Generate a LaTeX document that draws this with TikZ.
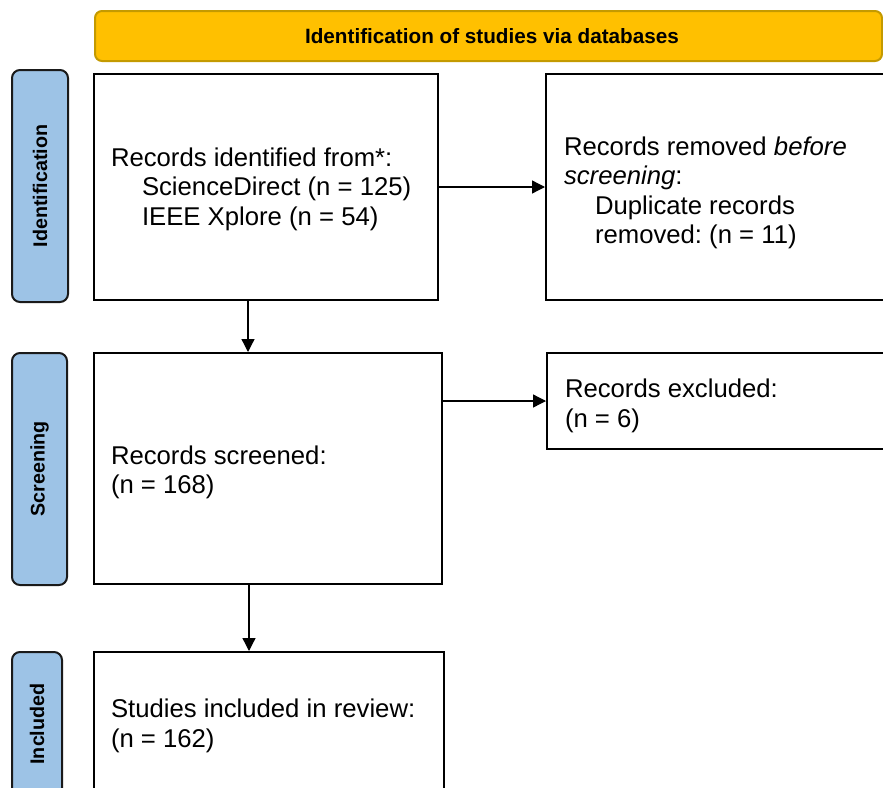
\documentclass[tikz,border=0pt]{standalone}
\usepackage{fontspec}
\setmainfont{Liberation Sans}
\usetikzlibrary{arrows.meta}
\frenchspacing
\definecolor{hdrfill}{HTML}{FFC000}
\definecolor{hdrline}{HTML}{C49A00}
\definecolor{sidefill}{HTML}{9DC3E6}
\definecolor{sideline}{HTML}{1A1A1A}
\newcommand\boxlines[3]{\raisebox{#1}[\height][\depth]{\parbox{#2}{\raggedright #3}}}
\tikzset{
  boxtext/.style={font=\fontsize{25.7}{29.5}\selectfont},
  flowbox/.style={draw=black, line width=2pt, rectangle, boxtext, inner ysep=0pt},
  sidebox/.style={draw=sideline, fill=sidefill, line width=2pt, rounded corners=8pt, rotate=90,
    font=\bfseries\fontsize{19.7}{23}\selectfont, inner sep=0pt},
  hdrbox/.style={draw=hdrline, fill=hdrfill, line width=2pt, rounded corners=7pt,
    font=\bfseries\fontsize{20.7}{24}\selectfont, inner sep=0pt},
  arr/.style={-{Triangle[length=13pt,width=13pt]}, line width=1.3pt, black}
}
\begin{document}
\begin{tikzpicture}[x=1pt,y=-1pt]
\useasboundingbox (0,0) rectangle (883,787);
\clip (0,0) rectangle (883,787);
\fill[white] (0,0) rectangle (883,787);

\node[hdrbox, minimum width=787pt, minimum height=50pt] (hdr) at (488.5,36)
  {\hspace*{7pt}Identification of studies via databases};

\node[sidebox, minimum width=232pt, minimum height=56pt] (sid) at (40,186) {Identification};
\node[sidebox, minimum width=232pt, minimum height=55pt] (sscr) at (39.5,469) {Screening};
\node[sidebox, minimum width=144pt, minimum height=50pt] (sinc) at (37,724) {Included};

\node[flowbox, minimum width=344pt, minimum height=226pt, inner xsep=17pt] (b1) at (266,187)
  {\boxlines{-2pt}{310pt}{Records identified from*:\\\hspace*{31pt}ScienceDirect (n = 125)\\\hspace*{31pt}IEEE Xplore (n = 54)}};

\node[flowbox, minimum width=354pt, minimum height=226pt, inner xsep=18pt] (b2) at (723,187)
  {\boxlines{-6pt}{318pt}{Records removed \textit{before}\\\textit{screening}:\\\hspace*{31pt}Duplicate records\\\hspace*{31pt}removed: (n = 11)}};

\node[flowbox, minimum width=348pt, minimum height=231pt, inner xsep=17pt] (b3) at (268,468.5)
  {\boxlines{-4pt}{314pt}{Records screened:\\(n = 168)}};

\node[flowbox, minimum width=353pt, minimum height=96pt, inner xsep=18pt] (b4) at (723.5,401)
  {\boxlines{-5pt}{317pt}{Records excluded:\\(n = 6)}};

\node[flowbox, minimum width=350pt, minimum height=140pt, inner xsep=17pt] (b5) at (269,722)
  {\boxlines{-4pt}{316pt}{Studies included in review:\\(n = 162)}};

\draw[arr] (b1.east) -- (b2.west);
\draw[arr] ([xshift=155pt]b1.south west) -- ([xshift=155pt]b3.north west);
\draw[arr] (b3.east |- b4.west) -- (b4.west);
\draw[arr] ([xshift=156pt]b3.south west) -- ([xshift=156pt]b5.north west);
\end{tikzpicture}
\end{document}
